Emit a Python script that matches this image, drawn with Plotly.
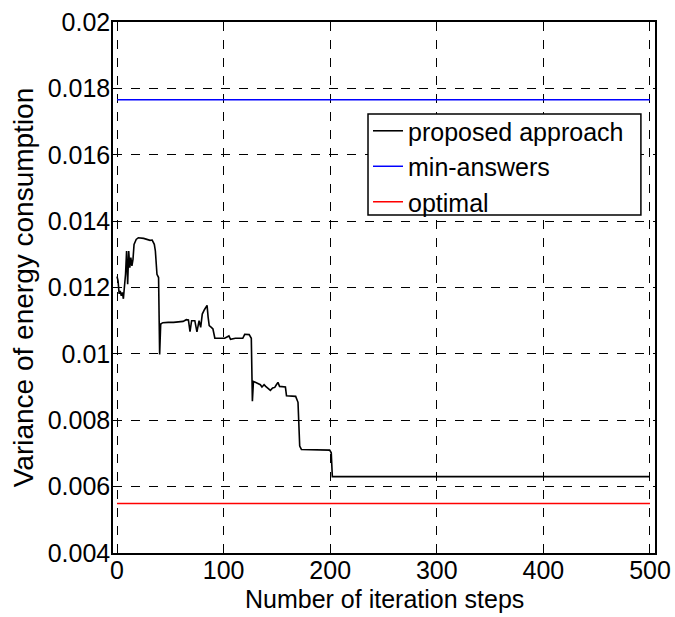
import plotly.graph_objects as go

# proposed approach (iteration step, variance)
steps = [0, 1, 2, 3, 4, 5, 6, 7, 8, 9, 10, 11, 12, 13, 14, 15, 16, 18, 20, 25, 28, 31, 33, 35, 36, 37.5, 39,
         40, 41, 43, 48, 53, 62, 65, 67, 68.5, 70, 73, 75, 77, 78.5, 80, 82, 84.5, 85.5, 86.5, 88.5, 90, 91.8,
         95, 101, 105, 106.5, 111, 118, 119.8, 124, 126, 127, 128, 131, 134.5, 136, 138, 139.5, 141, 143.9,
         146, 148, 149.5, 151, 152.5, 156, 158, 159, 164, 167.6, 169.8, 171.4, 173, 199.5, 201, 202, 500]
proposed = [0.01233, 0.01220, 0.01181, 0.01190, 0.01175, 0.01185, 0.01166, 0.01195, 0.01240, 0.01310, 0.01210,
            0.01310, 0.01260, 0.01290, 0.01265, 0.01285, 0.01330, 0.01345, 0.01350, 0.01348, 0.01345, 0.01342,
            0.01343, 0.01330, 0.01310, 0.01240, 0.01230,
            0.00998, 0.01090, 0.01094, 0.01095, 0.01095, 0.01098, 0.01103, 0.01102, 0.01067, 0.01100, 0.01100,
            0.01066, 0.01100, 0.01080, 0.01120, 0.01133, 0.01146, 0.01110, 0.01085, 0.01080, 0.01075, 0.01047,
            0.01047, 0.01047, 0.01054, 0.01044, 0.01047, 0.01047, 0.01059, 0.01058, 0.01047, 0.00857, 0.00917,
            0.00912, 0.00907, 0.00900, 0.00907, 0.00902, 0.00897, 0.00890,
            0.00897, 0.00899, 0.00907, 0.00914, 0.00902, 0.00900, 0.00900, 0.00874, 0.00874, 0.00872, 0.00854,
            0.00722, 0.00712, 0.00710, 0.00702, 0.00630, 0.00630]

span = [0, 500]
min_answers = [0.01766, 0.01766]
optimal = [0.00549, 0.00549]

x_ticks = [0, 100, 200, 300, 400, 500]
y_ticks = [0.004, 0.006, 0.008, 0.01, 0.012, 0.014, 0.016, 0.018, 0.02]
y_tick_labels = ["0.004", "0.006", "0.008", "0.01", "0.012", "0.014", "0.016", "0.018", "0.02"]

FONT = "Liberation Sans, Arial, sans-serif"

fig = go.Figure()
fig.add_trace(go.Scatter(x=steps, y=proposed, mode="lines", name="proposed approach",
                         line=dict(color="black", width=1.6)))
fig.add_trace(go.Scatter(x=span, y=min_answers, mode="lines", name="min-answers",
                         line=dict(color="#0000ff", width=1.5)))
fig.add_trace(go.Scatter(x=span, y=optimal, mode="lines", name="optimal",
                         line=dict(color="#ff0000", width=1.5)))

axis_common = dict(showline=True, linecolor="black", linewidth=1.5, mirror=True,
                   ticks="inside", ticklen=5, tickcolor="black",
                   showgrid=True, gridcolor="black", griddash="dash", gridwidth=1,
                   zeroline=False, tickfont=dict(family=FONT, size=25, color="black"))

fig.update_xaxes(range=[-3.75, 504.7], tickvals=x_ticks, ticktext=[str(v) for v in x_ticks],
                 ticklabelstandoff=-6,
                 **axis_common)
fig.update_yaxes(range=[0.004, 0.02], tickvals=y_ticks, ticktext=y_tick_labels,
                 ticklabelstandoff=-4,
                 title=dict(text="Variance of energy consumption", font=dict(family=FONT, size=28, color="black"),
                            standoff=6),
                 **axis_common)

# x-axis title, placed just under the tick labels
fig.add_annotation(text="Number of iteration steps", xref="paper", yref="paper",
                   x=0.5, y=-0.0866, xanchor="center", yanchor="middle", showarrow=False,
                   font=dict(family=FONT, size=25, color="black"))

# opaque legend frame (drawn above the grid, under the legend entries)
fig.add_shape(type="rect", xref="paper", yref="paper", x0=0.4705, x1=0.974, y0=0.6365, y1=0.8267,
              line=dict(color="black", width=1.5), fillcolor="white", layer="above")

fig.update_layout(
    width=675, height=617,
    margin=dict(l=113, r=20, t=22, b=64, autoexpand=False),
    paper_bgcolor="white", plot_bgcolor="white",
    showlegend=True,
    legend=dict(x=0.4705, y=0.838, xanchor="left", yanchor="top",
                bgcolor="rgba(0,0,0,0)", borderwidth=0,
                font=dict(family=FONT, size=25, color="black"),
                tracegroupgap=0),
)

fig.write_html("out.html", config={"displayModeBar": False},
               post_script="document.body.style.margin='0';document.body.style.overflow='hidden';")
